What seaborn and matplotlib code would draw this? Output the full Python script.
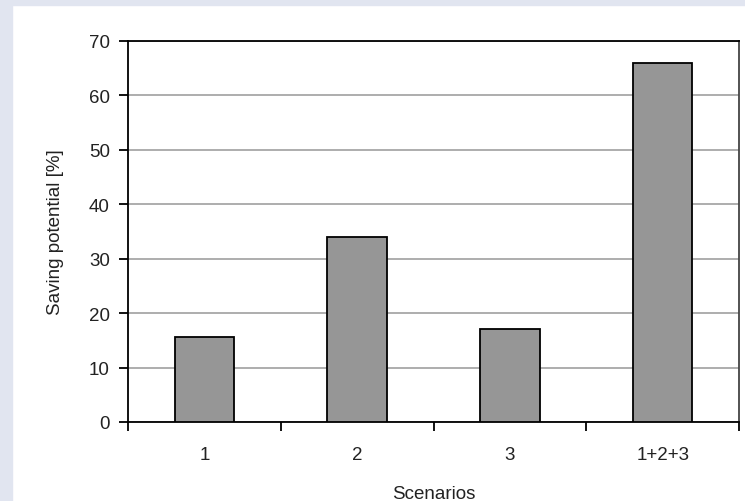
import matplotlib
matplotlib.use("Agg")
import matplotlib.pyplot as plt
import matplotlib.patches as mpatches
import seaborn as sns
import pandas as pd

# ── data ──────────────────────────────────────────────────────────────
scenarios = ["1", "2", "3", "1+2+3"]
saving = [15.6, 34.0, 17.1, 66.0]
y_ticks = [0, 10, 20, 30, 40, 50, 60, 70]

df = pd.DataFrame({"scenario": scenarios, "saving": saving})

sns.set_theme(style="white")
plt.rcParams["font.family"] = ["Liberation Sans", "DejaVu Sans"]
FS = 13.5
TXT = "#222222"

fig = plt.figure(figsize=(7.45, 5.02), dpi=100)
fig.patch.set_facecolor("white")
# light stippled frame of the original scan (left & top edge)
fig.patches.append(mpatches.Rectangle((0, 0), 12 / 745, 1, transform=fig.transFigure,
                                      color="#e1e5f0", zorder=0))
fig.patches.append(mpatches.Rectangle((0, 1 - 6 / 502), 1, 6 / 502, transform=fig.transFigure,
                                      color="#e1e5f0", zorder=0))

ax = fig.add_axes([128 / 745, 79 / 502, 611 / 745, 381 / 502])

sns.barplot(data=df, x="scenario", y="saving", color="#969696", width=0.39,
            edgecolor="black", linewidth=1.3, saturation=1, ax=ax, zorder=3)

ax.set_xlim(-0.5, len(scenarios) - 0.5)
ax.set_ylim(0, 70)
ax.set_yticks(y_ticks)
ax.yaxis.grid(True, color="#a0a0a0", linewidth=1.2, zorder=0)
ax.set_axisbelow(True)

# Excel-style x ticks: marks between categories, labels centred
ax.set_xticks([i - 0.5 for i in range(len(scenarios) + 1)], minor=True)
ax.tick_params(axis="x", which="major", length=0, pad=17, labelsize=FS, labelcolor=TXT)
ax.tick_params(axis="x", which="minor", length=6.5, width=1.3, direction="out",
               color="black", bottom=True)
ax.tick_params(axis="y", length=6.5, width=1.3, direction="out", left=True,
               pad=6.5, labelsize=FS, labelcolor=TXT, color="black")

for side in ["left", "bottom", "top"]:
    ax.spines[side].set_color("black")
    ax.spines[side].set_linewidth(1.3)
ax.spines["right"].set_color("#444444")
ax.spines["right"].set_linewidth(1.3)

ax.set_xlabel("Scenarios", fontsize=FS, color=TXT, labelpad=16)
ax.set_ylabel("Saving potential [%]", fontsize=FS, color=TXT, labelpad=18)

plt.savefig("out.png", dpi=100)
plt.close()
